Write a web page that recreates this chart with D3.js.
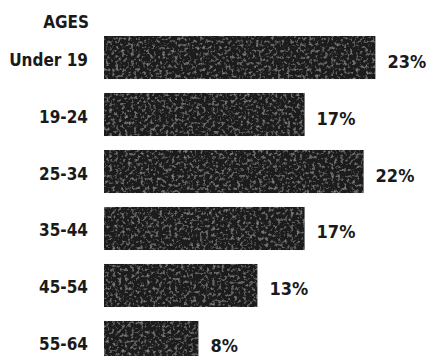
<!DOCTYPE html>
<html>
<head>
<meta charset="utf-8">
<script src="https://cdn.jsdelivr.net/npm/d3@7"></script>
<style>
  body { margin: 0; background: #fff; }
  text { font-family: "Liberation Sans Narrow", "DejaVu Sans Condensed", sans-serif; font-weight: bold; fill: #1a1a1a; }
</style>
</head>
<body>
<svg id="canvas" width="429" height="356"></svg>
<script>
// Data
var ages = ["Under 19", "19-24", "25-34", "35-44", "45-54", "55-64"];
var shares = [23, 17, 22, 17, 13, 8];
var title = "AGES";

var svg = d3.select("#canvas");

// grainy dark fill like the scanned bars
var defs = svg.append("defs");
var f = defs.append("filter").attr("id", "grain")
    .attr("x", 0).attr("y", 0).attr("width", 1).attr("height", 1);
f.append("feTurbulence").attr("type", "fractalNoise")
    .attr("baseFrequency", 0.32).attr("numOctaves", 3).attr("seed", 7).attr("result", "noise");
f.append("feColorMatrix").attr("in", "noise").attr("type", "matrix")
    .attr("values", "0 0 0 0 0.33  0 0 0 0 0.33  0 0 0 0 0.33  0 0 0 2.0 -1.05")
    .attr("result", "specks");
f.append("feComposite").attr("in", "specks").attr("in2", "SourceGraphic").attr("operator", "in").attr("result", "sp");
f.append("feMerge").call(function(m) {
    m.append("feMergeNode").attr("in", "SourceGraphic");
    m.append("feMergeNode").attr("in", "sp");
});

// Scales
var x = d3.scaleLinear()
    .domain([0, 25])
    .range([104, 104 + 11.8 * 25]);
var y = d3.scaleBand()
    .domain(ages)
    .range([36, 364])
    .paddingInner(0.245)
    .paddingOuter(0);

var rows = ages.map(function(a, i) { return { age: a, v: shares[i] }; });

// Bars
svg.selectAll("rect.bar")
    .data(rows)
    .enter().append("rect")
    .attr("class", "bar")
    .attr("x", x(0))
    .attr("y", function(d) { return y(d.age); })
    .attr("width", function(d) { return x(d.v) - x(0); })
    .attr("height", y.bandwidth())
    .attr("fill", "#1c1c1c")
    .attr("filter", "url(#grain)");

// Category labels
svg.selectAll("text.cat")
    .data(rows)
    .enter().append("text")
    .attr("class", "cat")
    .attr("x", 88)
    .attr("y", function(d) { return y(d.age) + y.bandwidth() / 2 + 8; })
    .attr("text-anchor", "end")
    .attr("font-size", 17)
    .text(function(d) { return d.age; });

// Value labels
svg.selectAll("text.val")
    .data(rows)
    .enter().append("text")
    .attr("class", "val")
    .attr("x", function(d) { return x(d.v) + 12; })
    .attr("y", function(d) { return y(d.age) + y.bandwidth() / 2 + 10; })
    .attr("font-size", 18)
    .text(function(d) { return d.v + "%"; });

// Header
svg.append("text")
    .attr("x", 89)
    .attr("y", 28)
    .attr("text-anchor", "end")
    .attr("font-size", 17)
    .text(title);
</script>
</body>
</html>
